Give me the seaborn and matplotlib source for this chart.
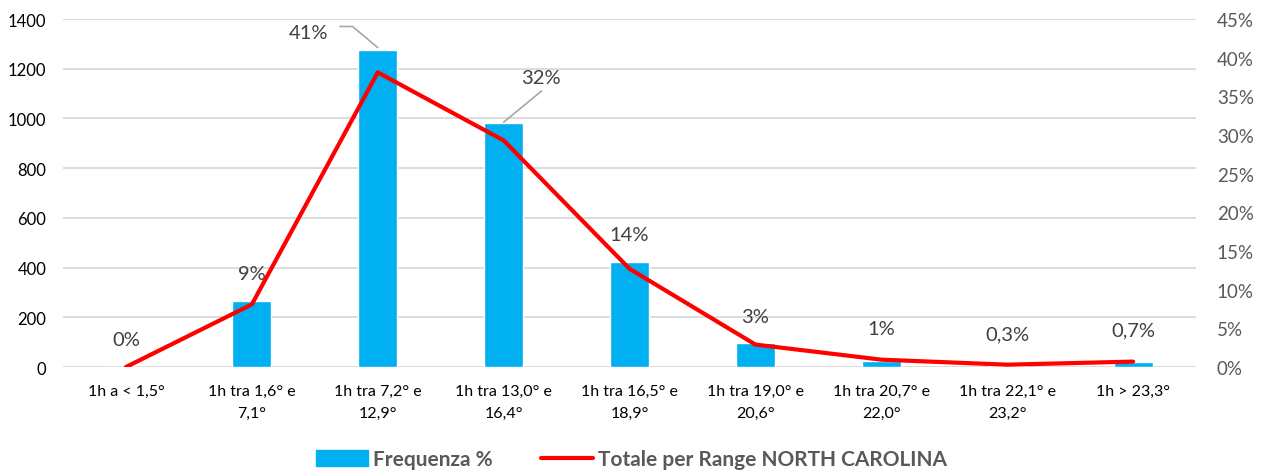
import matplotlib
matplotlib.use("Agg")
import matplotlib.pyplot as plt
import matplotlib.patches as mpatches
import matplotlib.lines as mlines
import numpy as np
import pandas as pd
import seaborn as sns

categorie = ["1h a < 1,5°", "1h tra 1,6° e\n7,1°", "1h tra 7,2° e\n12,9°",
             "1h tra 13,0° e\n16,4°", "1h tra 16,5° e\n18,9°", "1h tra 19,0° e\n20,6°",
             "1h tra 20,7° e\n22,0°", "1h tra 22,1° e\n23,2°", "1h > 23,3°"]
frequenza = [0, 265, 1276, 981, 422, 96, 25, 3, 20]
totale_pct = [0.0, 8.1, 38.1, 29.3, 12.7, 2.9, 0.95, 0.3, 0.7]
etichette = ["0%", "9%", "41%", "32%", "14%", "3%", "1%", "0,3%", "0,7%"]

sns.set_style("white")
plt.rcParams['font.family'] = ['Lato', 'DejaVu Sans']

df = pd.DataFrame({"cat": categorie, "freq": frequenza, "tot": totale_pct})

fig = plt.figure(figsize=(12.63, 4.77), dpi=100)
ax = fig.add_axes([0.0499, 0.2285, 0.8971, 0.7295])

sns.barplot(data=df, x="cat", y="freq", color="#00B0F0", saturation=1,
            width=0.31, ax=ax, zorder=2)
ax.set_ylim(0, 1400)
ax.set_yticks(range(0, 1401, 200))
ax.set_xlim(-0.5, 8.5)
ax.yaxis.grid(True, color="#d9d9d9", lw=1.3, zorder=0)
ax.set_axisbelow(True)
ax.set_xlabel("")
ax.set_ylabel("")
for s in ax.spines.values():
    s.set_visible(False)
ax.tick_params(axis="y", labelsize=12, colors="#000000", length=0, pad=12)
ax.tick_params(axis="x", labelsize=11.5, colors="#000000", length=0, pad=12)
for t in ax.get_xticklabels():
    t.set_linespacing(1.75)

ax2 = ax.twinx()
sns.lineplot(x=np.arange(len(totale_pct)), y=totale_pct, color="#FF0000",
             lw=3, ax=ax2, zorder=3)
ax2.set_ylim(0, 45)
ax2.set_yticks(range(0, 46, 5))
ax2.set_yticklabels([f"{v}%" for v in range(0, 46, 5)])
ax2.set_xlim(-0.5, 8.5)
for s in ax2.spines.values():
    s.set_visible(False)
ax2.tick_params(axis="y", labelsize=13.5, colors="#595959", length=0, pad=15)
ax2.set_ylabel("")

# etichette dati
lab_kw = dict(fontsize=14.5, color="#404040", ha="center", va="bottom")
for i, (v, lab) in enumerate(zip(frequenza, etichette)):
    if i == 2:
        ax.text(i - 0.55, 1310, lab, **lab_kw)
        ax.plot([i - 0.3, i - 0.2, i], [1370, 1370, 1285], color="#a6a6a6", lw=1.2, zorder=4)
    elif i == 3:
        ax.text(i + 0.3, 1130, lab, **lab_kw)
        ax.plot([i + 0.3, i], [1110, 985], color="#a6a6a6", lw=1.2, zorder=4)
    else:
        ax.text(i, v + 75 + (20 if i >= 6 else 0), lab, **lab_kw)

# legenda
h1 = mpatches.Patch(color="#00B0F0", label="Frequenza %")
h2 = mlines.Line2D([], [], color="#FF0000", lw=3, label="Totale per Range NORTH CAROLINA")
leg = fig.legend(handles=[h1, h2], loc="lower center", bbox_to_anchor=(0.5, -0.025),
                 ncol=2, frameon=False, handlelength=2.5, handleheight=0.8,
                 handletextpad=0.25, columnspacing=2.3,
                 prop={"weight": "bold", "size": 15})
for t in leg.get_texts():
    t.set_color("#595959")

fig.savefig("out.png", dpi=100)
